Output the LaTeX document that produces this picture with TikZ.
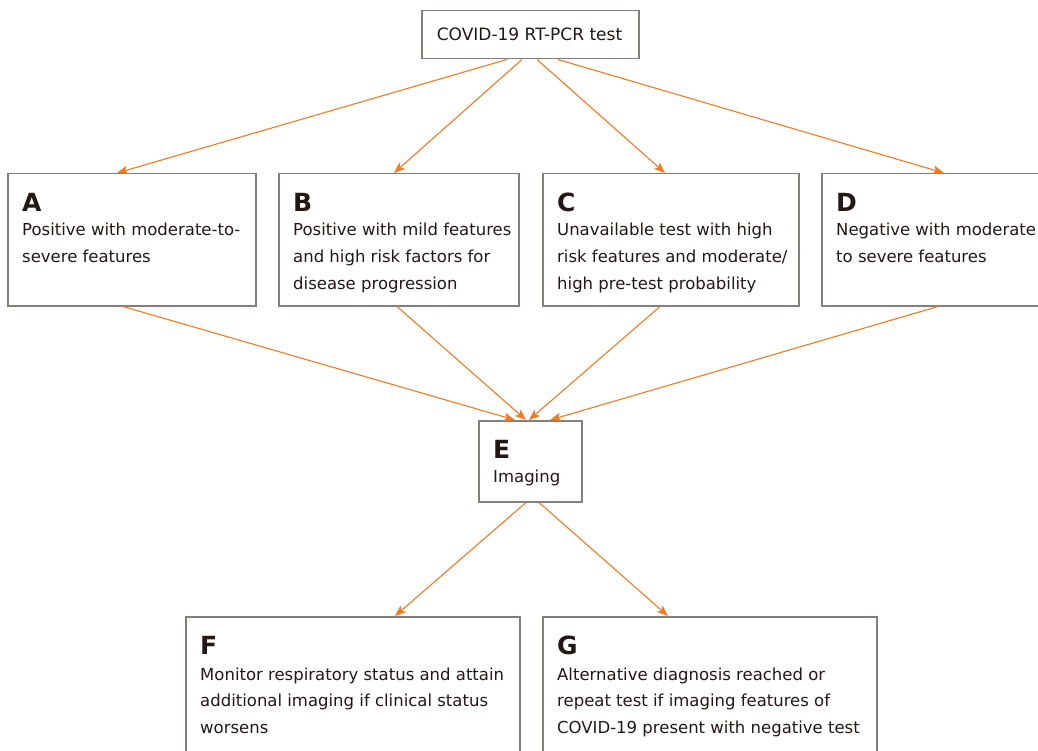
\documentclass[tikz,border=0pt]{standalone}
\usepackage{fontspec}
\setmainfont{DejaVu Sans}
\usetikzlibrary{arrows.meta}
\definecolor{arrorange}{HTML}{F47A22}
\definecolor{boxgray}{HTML}{857E7A}
\definecolor{txt}{HTML}{231815}
\begin{document}
\begin{tikzpicture}[x=1pt,y=-1pt,
  box/.style={draw=boxgray,line width=1.5pt,fill=white,anchor=north west,inner sep=0pt},
  txtline/.style={anchor=base west,inner sep=0pt,text=txt,font=\fontsize{16.5}{20}\selectfont},
  lettr/.style={anchor=base west,inner sep=0pt,text=txt,font=\fontsize{25}{28}\selectfont\bfseries},
  arr/.style={draw=arrorange,line width=1.1pt,-{Stealth[length=11pt,width=8.5pt,inset=2.5pt]}}]
\clip (0,0) rectangle (1038,751);
\fill[white] (0,0) rectangle (1038,751);
% boxes
\node[box,minimum width=217pt,minimum height=48pt] (top) at (421,10) {};
\node[txtline,anchor=center,text depth=0pt,font=\fontsize{17}{20}\selectfont] (toptxt) at (529.5,34) {COVID-19 RT-PCR test};
\node[box,minimum width=248pt,minimum height=132pt] (A) at (7,173) {};
\node[box,minimum width=240pt,minimum height=132pt] (B) at (278,173) {};
\node[box,minimum width=256pt,minimum height=132pt] (C) at (542,173) {};
\node[box,minimum width=240pt,minimum height=132pt] (D) at (821,173) {};
\node[box,minimum width=103pt,minimum height=81pt] (E) at (478,420) {};
\node[box,minimum width=334pt,minimum height=160pt] (F) at (185,616) {};
\node[box,minimum width=334pt,minimum height=160pt] (G) at (542,616) {};
% texts
\node[lettr] (Al) at (22,212) {A};
\node[txtline] (A1) at (22,236) {Positive with moderate-to-};
\node[txtline] (A2) at (22,262.5) {severe features};
\node[lettr] (Bl) at (293,212) {B};
\node[txtline] (B1) at (293,236) {Positive with mild features};
\node[txtline] (B2) at (293,262.5) {and high risk factors for};
\node[txtline] (B3) at (293,289) {disease progression};
\node[lettr] (Cl) at (557,212) {C};
\node[txtline] (C1) at (557,236) {Unavailable test with high};
\node[txtline] (C2) at (557,262.5) {risk features and moderate/};
\node[txtline] (C3) at (557,289) {high pre-test probability};
\node[lettr] (Dl) at (836,212) {D};
\node[txtline] (D1) at (836,236) {Negative with moderate};
\node[txtline] (D2) at (836,262.5) {to severe features};
\node[lettr] (El) at (493,458) {E};
\node[txtline] (E1) at (493,482.5) {Imaging};
\node[lettr] (Fl) at (200,654) {F};
\node[txtline] (F1) at (200,680) {Monitor respiratory status and attain};
\node[txtline] (F2) at (200,706.5) {additional imaging if clinical status};
\node[txtline] (F3) at (200,733) {worsens};
\node[lettr] (Gl) at (557,654) {G};
\node[txtline] (G1) at (557,680) {Alternative diagnosis reached or};
\node[txtline] (G2) at (557,706.5) {repeat test if imaging features of};
\node[txtline] (G3) at (557,733) {COVID-19 present with negative test};
% arrows
\draw[arr] ([xshift=86pt]top.south west) -- ([xshift=110pt]A.north west);
\draw[arr] ([xshift=101pt]top.south west) -- ([xshift=116pt]B.north west);
\draw[arr] ([xshift=116pt]top.south west) -- ([xshift=123pt]C.north west);
\draw[arr] ([xshift=137pt]top.south west) -- ([xshift=123pt]D.north west);
\draw[arr] ([xshift=116pt]A.south west) -- ([xshift=37pt]E.north west);
\draw[arr] ([xshift=119pt]B.south west) -- ([xshift=48pt]E.north west);
\draw[arr] ([xshift=118pt]C.south west) -- ([xshift=51pt]E.north west);
\draw[arr] ([xshift=117pt]D.south west) -- ([xshift=72pt]E.north west);
\draw[arr] ([xshift=48pt]E.south west) -- ([xshift=210pt]F.north west);
\draw[arr] ([xshift=61pt]E.south west) -- ([xshift=126pt]G.north west);
\end{tikzpicture}
\end{document}
